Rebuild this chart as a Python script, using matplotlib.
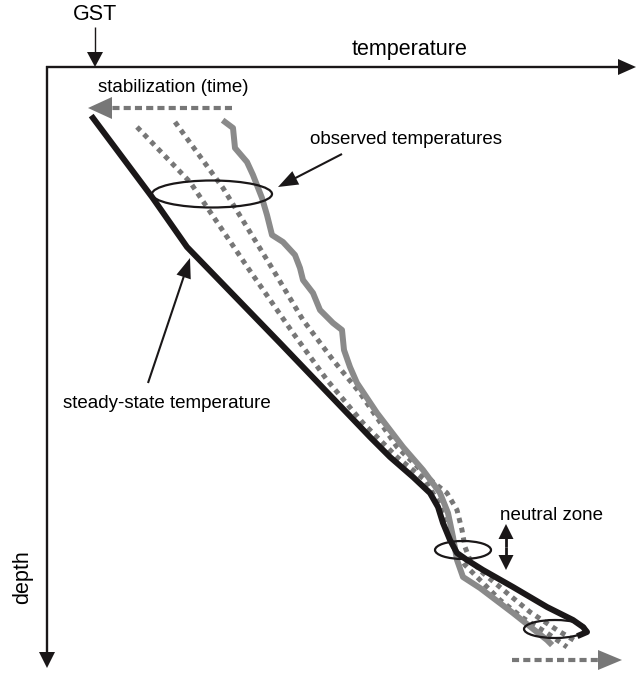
import numpy as np
from matplotlib import pyplot as plt
from matplotlib.patches import Ellipse, Polygon

plt.rcParams['font.family'] = ['Liberation Sans', 'DejaVu Sans']

# schematic profiles: temperature (x) against depth (y, downwards)
steady_t = [93, 152, 187, 280, 370, 390, 413, 430, 438, 443, 450, 457, 467, 483,
            513, 547, 573, 583, 587, 580]
steady_z = [118, 197, 247, 343, 437, 457, 477, 493, 507, 523, 540, 553, 560, 570,
            587, 607, 620, 627, 632, 635]

observed_t = [225, 233, 235, 247, 253, 262, 267, 272, 283, 295, 300, 303, 313, 320, 333, 342, 344,
              350, 357, 377, 403, 423, 440, 448, 453, 457, 463, 480, 513, 547, 550]
observed_z = [122, 128, 148, 162, 175, 198, 215, 235, 242, 255, 268, 280, 293, 310, 323, 330, 350,
              367, 383, 413, 447, 470, 493, 513, 537, 560, 577, 588, 613, 640, 643]

stage1_t = [137, 190, 248, 293, 327, 363, 397, 425, 440, 447, 455, 465, 480, 500, 523, 547, 567]
stage1_z = [127, 182, 268, 333, 380, 423, 457, 480, 505, 530, 550, 565, 580, 600, 618, 633, 647]

stage2_t = [175, 223, 272, 303, 333, 360, 397, 433, 447, 457, 462, 465, 470, 483, 507, 530, 557, 577]
stage2_z = [122, 188, 268, 320, 360, 393, 447, 482, 493, 510, 530, 547, 560, 573, 593, 612, 630, 642]

BLACK = '#1a1718'
GRAY = '#8a8a8a'
DOT = '#777777'
LABEL = 15.5
NOTE = 13.5


def head(ax, tip, dx, dy, length, width, color):
    # filled triangular arrow head pointing along (dx, dy)
    d = np.array([dx, dy], float)
    d /= np.hypot(*d)
    n = np.array([-d[1], d[0]])
    tip = np.array(tip, float)
    base = tip - d * length
    pts = [tip, base + n * width / 2, base - n * width / 2]
    ax.add_patch(Polygon(pts, closed=True, color=color, lw=0, zorder=5))


def arrow(ax, start, end, color, lw, length, width, ls='-'):
    d = np.array(end, float) - np.array(start, float)
    u = d / np.hypot(*d)
    stop = np.array(end) - u * length * 0.8
    ax.plot([start[0], stop[0]], [start[1], stop[1]], color=color, lw=lw, ls=ls,
            solid_capstyle='butt', dash_capstyle='butt', zorder=4)
    head(ax, end, u[0], u[1], length, width, color)


fig = plt.figure(figsize=(6.39, 6.73), dpi=100)
ax = fig.add_axes([0, 0, 1, 1])
ax.set_xlim(0, 639)
ax.set_ylim(673, 0)
ax.axis('off')

# axes of the diagram
arrow(ax, (46, 67), (636, 67), BLACK, 1.7, 18, 16)
arrow(ax, (47, 66), (47, 668), BLACK, 1.7, 16, 16)
arrow(ax, (95, 27), (95, 67), BLACK, 1.0, 15, 16)

ax.text(95, 15, 'GST', ha='center', va='center', fontsize=LABEL)
ax.text(410, 50, 'temperature', ha='center', va='center', fontsize=LABEL)
ax.text(23, 577, 'depth', ha='center', va='center', fontsize=LABEL, rotation=90)

# profiles
ax.plot(stage1_t, stage1_z, color=DOT, lw=3.6, ls=(0, (1, 1)), dash_capstyle='butt', zorder=2)
ax.plot(stage2_t, stage2_z, color=DOT, lw=3.6, ls=(0, (1, 1)), dash_capstyle='butt', zorder=2)
ax.plot(observed_t, observed_z, color=GRAY, lw=4.3, solid_joinstyle='round', zorder=3)
ax.plot(steady_t, steady_z, color=BLACK, lw=4.3, solid_joinstyle='round', zorder=3)

# stabilization direction
ax.text(173, 87, 'stabilization (time)', ha='center', va='center', fontsize=NOTE)
arrow(ax, (232, 108), (88, 108), DOT, 3.0, 24, 22, ls=(0, (1.7, 1.0)))
arrow(ax, (512, 660), (622, 660), DOT, 3.0, 24, 20, ls=(0, (1.7, 1.0)))

# highlighted zones
for cx, cy, w, h in [(212, 194, 120, 27), (463, 550, 56, 18), (555, 629, 62, 18)]:
    ax.add_patch(Ellipse((cx, cy), w, h, fill=False, ec=BLACK, lw=1.6, zorder=6))

ax.text(406, 139, 'observed temperatures', ha='center', va='center', fontsize=NOTE)
arrow(ax, (342, 154), (278, 187), BLACK, 1.5, 20, 15)

ax.text(167, 403, 'steady-state temperature', ha='center', va='center', fontsize=NOTE)
arrow(ax, (148, 383), (190, 258), BLACK, 1.5, 20, 15)

ax.text(500, 515, 'neutral zone', ha='left', va='center', fontsize=NOTE)
arrow(ax, (506, 547), (506, 524), BLACK, 2.0, 15, 15)
arrow(ax, (506, 547), (506, 570), BLACK, 2.0, 15, 15)

fig.savefig('out.png', dpi=100)
